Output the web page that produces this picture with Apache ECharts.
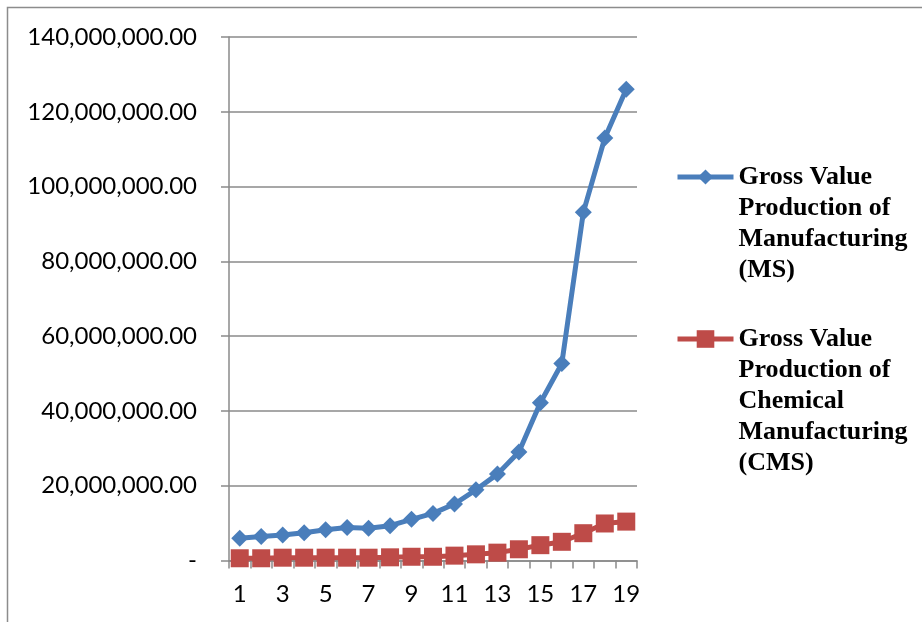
<!DOCTYPE html>
<html>
<head>
<meta charset="utf-8">
<script src="https://cdn.jsdelivr.net/npm/echarts@6/dist/echarts.min.js"></script>
<style>
  html, body { margin: 0; padding: 0; background: #ffffff; }
  #chart { width: 922px; height: 622px; }
</style>
</head>
<body>
<div id="chart"></div>
<script>
// Periods 1..19
const periods = ['1','2','3','4','5','6','7','8','9','10','11','12','13','14','15','16','17','18','19'];

// Gross value of production, manufacturing sector (MS)
const msValues = [5940000, 6400000, 6800000, 7400000, 8200000, 8800000, 8600000, 9300000, 11000000, 12600000,
                  15100000, 18900000, 23100000, 29000000, 42200000, 52700000, 93100000, 113000000, 126000000];

// Gross value of production, chemical manufacturing sector (CMS)
const cmsValues = [600000, 600000, 750000, 750000, 750000, 750000, 750000, 850000, 1000000, 1000000,
                   1300000, 1650000, 2100000, 3000000, 4100000, 5000000, 7300000, 9900000, 10400000];

const msName = 'Gross Value\nProduction of\nManufacturing\n(MS)';
const cmsName = 'Gross Value\nProduction of\nChemical\nManufacturing\n(CMS)';

const blue = '#4a7ebb';
const red = '#be4b48';
const gridGray = '#8a8a8a';
const labelFont = 'Lato, "Open Sans", sans-serif';
const legendFont = '"Liberation Serif", "Times New Roman", serif';

function fmtValue(v) {
  if (v === 0) return '-';
  return v.toLocaleString('en-US', { minimumFractionDigits: 2, maximumFractionDigits: 2 });
}

// Legend text is centred on its icon; leading blank lines put the icon beside the first line.
function topAligned(name) {
  const n = name.split('\n').length;
  return '\n'.repeat(n - 1) + name;
}

const chart = echarts.init(document.getElementById('chart'), null, { renderer: 'canvas' });

const legendText = {
  fontFamily: legendFont,
  fontWeight: 'bold',
  fontSize: 26,
  lineHeight: 31,
  color: '#000000'
};

const legendCommon = {
  orient: 'vertical',
  left: 675,
  padding: 0,
  itemWidth: 56,
  itemGap: 0,
  formatter: topAligned,
  textStyle: legendText,
  lineStyle: { width: 5 }
};

chart.setOption({
  backgroundColor: '#ffffff',
  animation: false,
  graphic: [{
    type: 'rect',
    silent: true,
    shape: { x: 7.5, y: 7.5, width: 1000, height: 1000 },
    style: { fill: 'none', stroke: '#8c8c8c', lineWidth: 1.5 }
  }],
  grid: { left: 229, right: 285, top: 37, bottom: 61.5 },
  legend: [
    Object.assign({ top: 68.5, itemHeight: 19, data: [msName] }, legendCommon),
    Object.assign({ top: 199.5, itemHeight: 22, data: [cmsName] }, legendCommon)
  ],
  xAxis: {
    type: 'category',
    data: periods,
    boundaryGap: true,
    axisLine: { show: true, lineStyle: { color: gridGray, width: 1.5 } },
    axisTick: { show: true, interval: 0, length: 8, lineStyle: { color: gridGray, width: 1.5 } },
    axisLabel: { interval: 1, margin: 22, fontFamily: labelFont, fontSize: 24, color: '#000000' },
    splitLine: { show: false }
  },
  yAxis: {
    type: 'value',
    min: 0,
    max: 140000000,
    interval: 20000000,
    axisLine: { show: true, lineStyle: { color: gridGray, width: 1.5 } },
    axisTick: { show: true, length: 8, lineStyle: { color: gridGray, width: 1.5 } },
    axisLabel: { margin: 32, fontFamily: labelFont, fontSize: 24, color: '#000000', formatter: fmtValue },
    splitLine: { show: true, lineStyle: { color: gridGray, width: 1.5 } }
  },
  series: [{
    name: msName,
    type: 'line',
    data: msValues,
    symbol: 'diamond',
    symbolSize: 17,
    showAllSymbol: true,
    color: blue,
    lineStyle: { color: blue, width: 5 },
    itemStyle: { color: blue },
    z: 3
  }, {
    name: cmsName,
    type: 'line',
    data: cmsValues,
    symbol: 'rect',
    symbolSize: 18,
    showAllSymbol: true,
    color: red,
    lineStyle: { color: red, width: 5 },
    itemStyle: { color: red },
    z: 2
  }]
});
</script>
</body>
</html>
